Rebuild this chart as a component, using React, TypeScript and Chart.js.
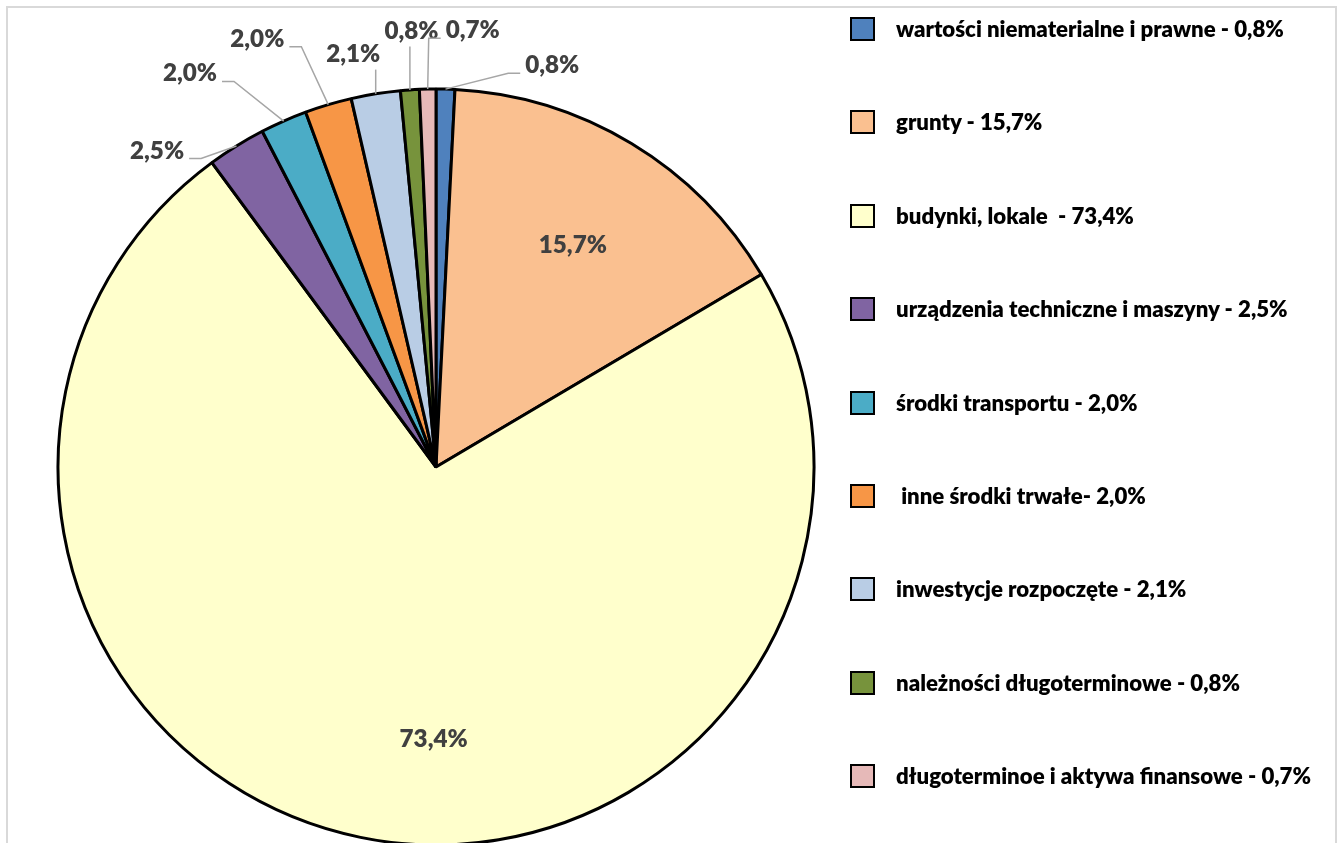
import React, { useEffect, useRef } from "react";
import { Chart, registerables } from "chart.js";

Chart.register(...registerables);

// ---- data ----
const LABELS = [
  "wartości niematerialne i prawne - 0,8%",
  "grunty - 15,7%",
  "budynki, lokale  - 73,4%",
  "urządzenia techniczne i maszyny - 2,5%",
  "środki transportu - 2,0%",
  " inne środki trwałe- 2,0%",
  "inwestycje rozpoczęte - 2,1%",
  "należności długoterminowe - 0,8%",
  "długoterminoe i aktywa finansowe - 0,7%",
];
const VALUES = [0.8, 15.7, 73.4, 2.5, 2.0, 2.0, 2.1, 0.8, 0.7];
const COLORS = [
  "#4F81BD",
  "#FAC090",
  "#FFFFCC",
  "#8064A2",
  "#4BACC6",
  "#F79646",
  "#B9CDE5",
  "#77933C",
  "#E6B9B8",
];

// ---- label layout (angle clockwise from 12 o'clock, distance in radii) ----
const LABEL_ANGLE = [16.1, 31.5, 180.5, -41.3, -31.95, -22.6, -11.3, -3.2, 4.8];
const LABEL_DIST = [1.109, 0.693, 0.718, 1.118, 1.23, 1.23, 1.118, 1.159, 1.162];

const FONT = "Lato, 'Open Sans', sans-serif";
const WEIGHT = 800;
const LABEL_FONT_PX = 24.2;
const LEGEND_FONT_PX = 22.2;

const labelPlugin = {
  id: "sliceLabels",
  afterDatasetsDraw(chart: any) {
    const ctx = chart.ctx as CanvasRenderingContext2D;
    const meta = chart.getDatasetMeta(0);
    ctx.save();
    ctx.font = `${WEIGHT} ${LABEL_FONT_PX}px ${FONT}`;
    const capH = ctx.measureText("0").actualBoundingBoxAscent;
    meta.data.forEach((arc: any, i: number) => {
      const { x, y, startAngle, endAngle, outerRadius } = arc.getProps(
        ["x", "y", "startAngle", "endAngle", "outerRadius"],
        true
      );
      const text = VALUES[i].toFixed(1).replace(".", ",") + "%";
      const a = (LABEL_ANGLE[i] * Math.PI) / 180;
      const d = LABEL_DIST[i] * outerRadius;
      const cx = x + d * Math.sin(a);
      const cy = y - d * Math.cos(a);
      const w = ctx.measureText(text).width;
      const left = cx - w / 2;
      const right = cx + w / 2;
      const bottom = cy + capH / 2;
      if (LABEL_DIST[i] > 1) {
        const mid = (startAngle + endAngle) / 2;
        const px = x + outerRadius * Math.cos(mid);
        const py = y + outerRadius * Math.sin(mid);
        ctx.strokeStyle = "#A6A6A6";
        ctx.lineWidth = 1.5;
        ctx.beginPath();
        ctx.moveTo(px, py);
        if (px >= left - 5 && px <= right + 5) {
          ctx.lineTo(px, bottom + 8);
        } else if (px > right) {
          ctx.lineTo(right + 17, bottom);
          ctx.lineTo(right + 5, bottom);
        } else {
          ctx.lineTo(left - 17, bottom);
          ctx.lineTo(left - 5, bottom);
        }
        ctx.stroke();
      }
      ctx.fillStyle = "#404040";
      ctx.textAlign = "center";
      ctx.textBaseline = "alphabetic";
      ctx.fillText(text, cx, bottom);
    });
    ctx.restore();
  },
};

export default function App() {
  const ref = useRef<HTMLCanvasElement | null>(null);

  useEffect(() => {
    if (!ref.current) return;
    const chart = new Chart(ref.current, {
      type: "pie",
      data: {
        labels: LABELS,
        datasets: [
          {
            data: VALUES,
            backgroundColor: COLORS,
            borderColor: "#000000",
            borderWidth: 3,
            radius: 378,
            clip: false,
          } as any,
        ],
      },
      options: {
        responsive: false,
        animation: false,
        layout: { padding: { left: 58, right: 527, top: 91, bottom: 0 } },
        plugins: {
          legend: { display: false },
          tooltip: { enabled: false },
        },
      },
      plugins: [labelPlugin],
    });
    if ((document as any).fonts && (document as any).fonts.load) {
      (document as any).fonts
        .load(`${WEIGHT} ${LABEL_FONT_PX}px Lato`)
        .then(() => chart.update())
        .catch(() => {});
    }
    return () => chart.destroy();
  }, []);

  return (
    <div
      style={{
        position: "fixed",
        left: 0,
        top: 0,
        width: 1341,
        height: 843,
        overflow: "hidden",
        background: "#ffffff",
      }}
    >
      <div
        style={{
          position: "absolute",
          left: 6,
          top: 6,
          width: 1331,
          height: 900,
          border: "2px solid #D9D9D9",
          boxSizing: "border-box",
        }}
      />
      <canvas
        ref={ref}
        width={1341}
        height={843}
        style={{ position: "absolute", left: 0, top: 0, width: 1341, height: 843 }}
      />
      <div style={{ position: "absolute", left: 850, top: 29 - 46.7 }}>
        {LABELS.map((lab, i) => (
          <div
            key={i}
            style={{
              height: 93.4,
              display: "flex",
              alignItems: "center",
            }}
          >
            <div
              style={{
                width: 25,
                height: 24,
                boxSizing: "border-box",
                border: "2px solid #000",
                background: COLORS[i],
                flex: "none",
              }}
            />
            <div
              style={{
                marginLeft: 21,
                fontFamily: FONT,
                fontWeight: WEIGHT,
                fontSize: LEGEND_FONT_PX,
                color: "#000",
                whiteSpace: "pre",
                lineHeight: "24px",
              }}
            >
              {lab}
            </div>
          </div>
        ))}
      </div>
    </div>
  );
}
